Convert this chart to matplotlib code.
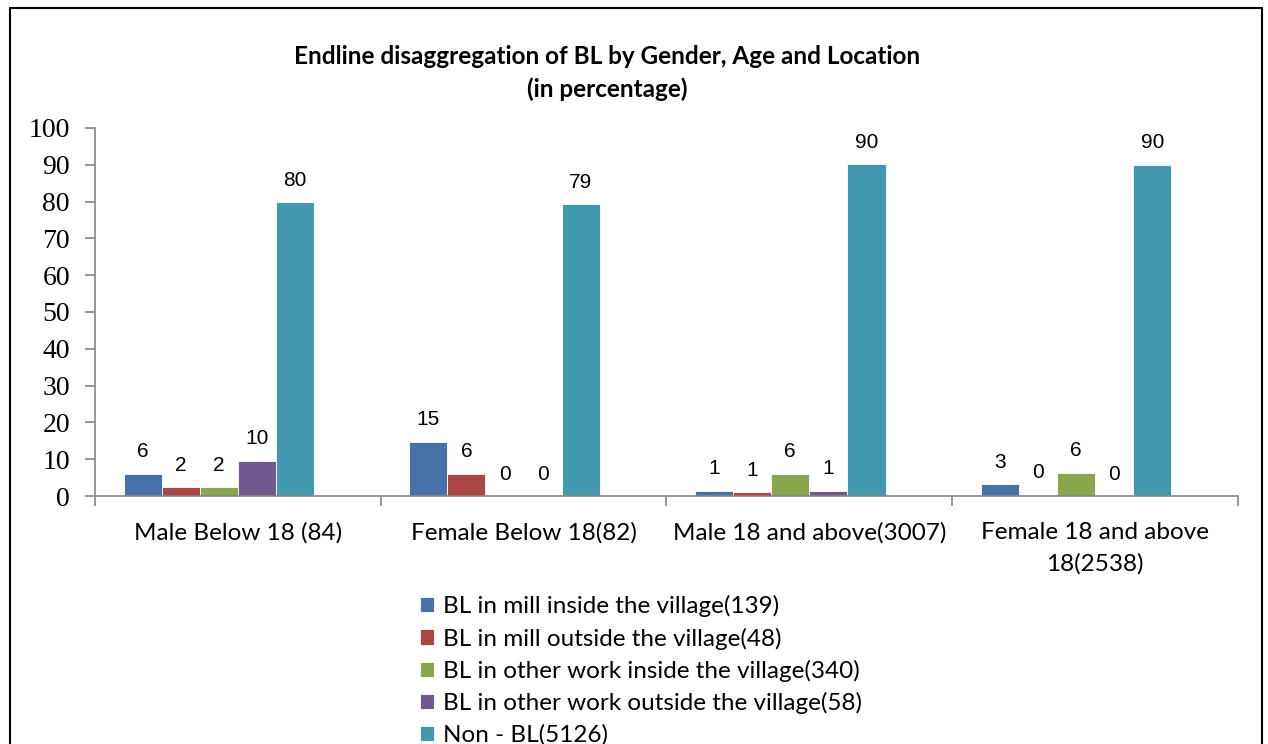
import numpy as np
import matplotlib
matplotlib.use('Agg')
import matplotlib.pyplot as plt
from matplotlib.patches import Rectangle

# data (percentages)
categories = ['Male Below 18 (84)', 'Female Below 18(82)',
              'Male 18 and above(3007)', 'Female 18 and above\n18(2538)']
series = ['BL in mill inside the village(139)',
          'BL in mill outside the village(48)',
          'BL in other work inside the village(340)',
          'BL in other work outside the village(58)',
          'Non - BL(5126)']
mill_in = [6.0, 14.7, 1.4, 3.2]
mill_out = [2.4, 6.1, 1.0, 0.4]
other_in = [2.4, 0.0, 6.0, 6.3]
other_out = [9.6, 0.0, 1.4, 0.0]
non_bl = [79.8, 79.3, 90.1, 90.0]
values = [mill_in, mill_out, other_in, other_out, non_bl]
colors = ['#4672A8', '#AA4644', '#89A54E', '#71588F', '#4198AF']

fig = plt.figure(figsize=(12.68, 7.44), dpi=100)
ax = fig.add_axes([0.0749, 0.3333, 0.9014, 0.4947])

# excel layout: 6 slots per cluster (last one empty), gap width 150%
w = 1 / 7.5
x = np.arange(len(categories))
for i, (vals, col, name) in enumerate(zip(values, colors, series)):
    pos = x - 0.5 + 0.75 * w + (i + 0.5) * w
    bars = ax.bar(pos, vals, width=w, color=col, edgecolor='white',
                  linewidth=0.6, label=name)
    for b, v in zip(bars, vals):
        ax.text(b.get_x() + b.get_width() / 2, v + 3.4, '%.0f' % v,
                ha='center', va='bottom', fontsize=15,
                family='Liberation Sans')

ax.set_xlim(-0.5, 3.5)
ax.set_ylim(0, 100)
ax.set_yticks(range(0, 101, 10))
ax.set_xticks(x)
ax.set_xticklabels(categories, fontsize=17.5, family='Lato', linespacing=1.55)
ax.set_xticks(np.arange(-0.5, 3.6, 1), minor=True)
ax.tick_params(axis='x', which='major', length=0, pad=19)
ax.tick_params(axis='x', which='minor', length=7, color='#868686', width=1.2)
ax.tick_params(axis='y', length=7, color='#868686', width=1.2, labelsize=20,
               pad=11)
for lab in ax.get_yticklabels():
    lab.set_family('Liberation Serif')
for s in ['top', 'right']:
    ax.spines[s].set_visible(False)
for s in ['left', 'bottom']:
    ax.spines[s].set_color('#868686')
    ax.spines[s].set_linewidth(1.2)

fig.text(0.479, 0.902, 'Endline disaggregation of BL by Gender, Age and Location\n(in percentage)',
         ha='center', va='center', fontsize=17.5, fontweight='bold',
         family='Lato', linespacing=1.45)

fig.legend(loc='upper left', bbox_to_anchor=(0.331, 0.2), frameon=False,
           prop={'family': 'Lato', 'size': 17.5}, handlelength=0.58,
           handleheight=0.58, handletextpad=0.38, labelspacing=0.42,
           borderaxespad=0, borderpad=0)

# chart border (bottom edge runs off the image)
fig.add_artist(Rectangle((0.008, -0.05), 0.987, 1.039, transform=fig.transFigure,
                         fill=False, edgecolor='black', linewidth=1.5))

fig.savefig('out.png', dpi=100)
